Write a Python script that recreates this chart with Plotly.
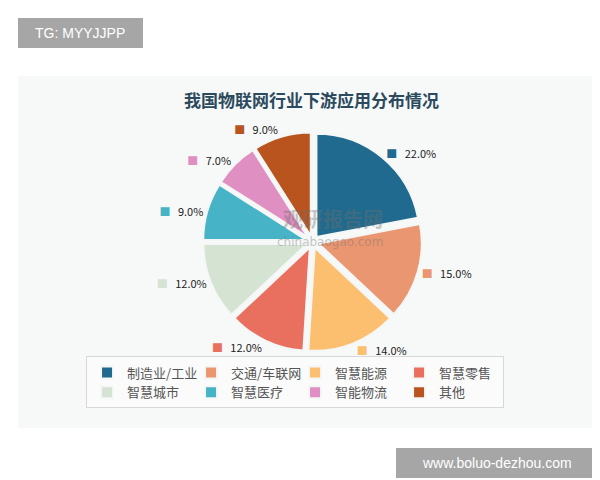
import plotly.graph_objects as go

categories = ["制造业/工业", "交通/车联网", "智慧能源", "智慧零售", "智慧城市", "智慧医疗", "智能物流", "其他"]
values = [22.0, 15.0, 14.0, 12.0, 12.0, 9.0, 7.0, 9.0]
colors = ["#1f6a8e", "#ea9670", "#fcbf70", "#e96f5f", "#d5e3d3", "#47b3c6", "#e08fc2", "#b9541f"]

FONT = "Noto Sans CJK SC, Noto Sans, sans-serif"

fig = go.Figure()
fig.add_trace(go.Pie(
    labels=categories,
    values=values,
    customdata=colors,
    sort=False,
    direction="clockwise",
    rotation=0,
    pull=[0.06] * len(values),
    marker=dict(colors=colors, line=dict(color="#f4f7f6", width=2)),
    textposition="outside",
    texttemplate="<span style='color:%{customdata}'>■</span>   %{value:.1f}%",
    textfont=dict(family=FONT, size=11, color="#222222"),
    hoverinfo="label+value",
    domain=dict(x=[0.325, 0.69], y=[0.283, 0.743]),
    showlegend=True,
))

fig.update_layout(
    width=600, height=480,
    margin=dict(l=0, r=0, t=0, b=0),
    paper_bgcolor="white",
    plot_bgcolor="white",
    font=dict(family=FONT),
    legend=dict(
        orientation="h",
        x=0.158, xanchor="left",
        y=0.274, yanchor="top",
        entrywidth=59, entrywidthmode="pixels",
        font=dict(family=FONT, size=13, color="#555555"),
        bgcolor="#fbfbfb",
        bordercolor="#d8d8d8", borderwidth=1,
        itemwidth=30,
        tracegroupgap=0,
    ),
    shapes=[
        dict(type="rect", xref="paper", yref="paper",
             x0=10/600, x1=592/600, y0=1-420/480, y1=1-68/480,
             fillcolor="#f7f8f8", line=dict(width=0), layer="below"),
        dict(type="rect", xref="paper", yref="paper",
             x0=10/600, x1=135/600, y0=1-40/480, y1=1-10/480,
             fillcolor="#a6a6a6", line=dict(width=0), layer="below"),
        dict(type="rect", xref="paper", yref="paper",
             x0=388/600, x1=590/600, y0=1-470/480, y1=1-440/480,
             fillcolor="#a6a6a6", line=dict(width=0), layer="below"),
    ],
    annotations=[
        dict(text="<b>我国物联网行业下游应用分布情况</b>", xref="paper", yref="paper",
             x=0.505, y=1-91/480, xanchor="center", yanchor="middle", showarrow=False,
             font=dict(family=FONT, size=17, color="#2b4a5e")),
        dict(text="TG: MYYJJPP", xref="paper", yref="paper",
             x=72/600, y=1-25/480, xanchor="center", yanchor="middle", showarrow=False,
             font=dict(family="Liberation Sans, Arial, sans-serif", size=14, color="white")),
        dict(text="www.boluo-dezhou.com", xref="paper", yref="paper",
             x=489/600, y=1-455/480, xanchor="center", yanchor="middle", showarrow=False,
             font=dict(family="Liberation Sans, Arial, sans-serif", size=14, color="white")),
        dict(text="<b>观研报告网</b>", xref="paper", yref="paper",
             x=325/600, y=1-210/480, xanchor="center", yanchor="middle", showarrow=False,
             font=dict(family=FONT, size=20, color="rgba(110,110,110,0.4)")),
        dict(text="chinabaogao.com", xref="paper", yref="paper",
             x=322/600, y=1-234/480, xanchor="center", yanchor="middle", showarrow=False,
             font=dict(family="DejaVu Sans, sans-serif", size=12, color="rgba(110,110,110,0.4)")),
    ],
)

fig.write_html("out.html")
